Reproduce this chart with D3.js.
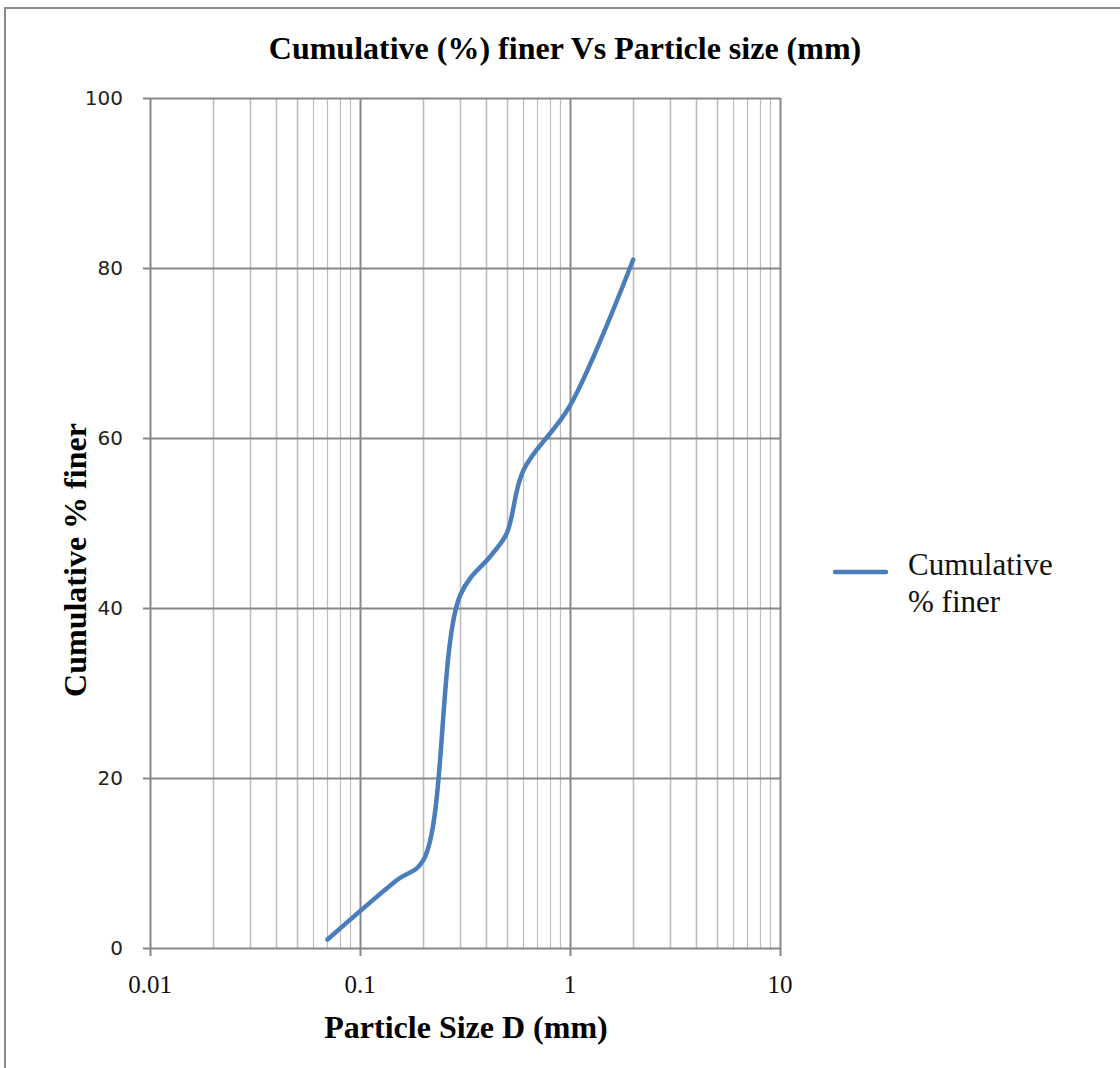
<!DOCTYPE html>
<html>
<head>
<meta charset="utf-8">
<script src="https://cdn.jsdelivr.net/npm/d3@7"></script>
<style>
  body { margin: 0; background: #fff; }
  svg { display: block; }
</style>
</head>
<body>
<div id="chart"></div>
<script>
    // sieve sizes (mm) and cumulative % finer
    var sizes  = [0.07, 0.15, 0.2, 0.3, 0.425, 0.5, 0.6, 1, 2];
    var finer  = [1, 8, 10.3, 41.5, 46.3, 48.8, 56.2, 63.8, 81];
    var xTicks = [0.01, 0.1, 1, 10];
    var yTicks = [0, 20, 40, 60, 80, 100];
    var seriesName = ["Cumulative", "% finer"];

    var W = 1120, H = 1068;
    var svg = d3.select("#chart").append("svg")
                .attr("width", W)
                .attr("height", H);

    // chart frame
    svg.append("rect")
       .attr("x", 5).attr("y", 8)
       .attr("width", W + 20).attr("height", H + 20)
       .attr("fill", "none")
       .attr("stroke", "#8c8c8c")
       .attr("stroke-width", 2);

    var x = d3.scaleLog().domain([0.01, 10]).range([150, 780]);
    var y = d3.scaleLinear().domain([0, 100]).range([948, 98]);

    // minor vertical grid (2..9 in each decade)
    var minor = [];
    xTicks.slice(0, -1).forEach(function(d){
        for (var k = 2; k <= 9; k++) minor.push(d * k);
    });
    svg.append("g").selectAll("line")
       .data(minor).enter().append("line")
       .attr("x1", function(d){ return Math.round(x(d)) + 0.5; })
       .attr("x2", function(d){ return Math.round(x(d)) + 0.5; })
       .attr("y1", y(100)).attr("y2", y(0))
       .attr("stroke", "#bdbdbd")
       .attr("stroke-width", function(d, i){ return (i % 8) < 4 ? 1.6 : 1.2; });

    // major vertical grid
    svg.append("g").selectAll("line")
       .data(xTicks).enter().append("line")
       .attr("x1", function(d){ return Math.round(x(d)) + 0.5; })
       .attr("x2", function(d){ return Math.round(x(d)) + 0.5; })
       .attr("y1", y(100)).attr("y2", y(0) + 8)
       .attr("stroke", "#878787")
       .attr("stroke-width", 2);

    // horizontal grid
    svg.append("g").selectAll("line")
       .data(yTicks).enter().append("line")
       .attr("x1", x(0.01) - 7).attr("x2", x(10))
       .attr("y1", function(d){ return Math.round(y(d)) + 0.5; })
       .attr("y2", function(d){ return Math.round(y(d)) + 0.5; })
       .attr("stroke", "#878787")
       .attr("stroke-width", 2);

    // tick labels
    svg.append("g").selectAll("text")
       .data(yTicks).enter().append("text")
       .text(function(d){ return d; })
       .attr("x", 123)
       .attr("y", function(d){ return y(d) + 7; })
       .attr("text-anchor", "end")
       .style("font-family", "DejaVu Sans, Verdana, sans-serif")
       .style("font-size", "20px")
       .style("fill", "#222");

    svg.append("g").selectAll("text")
       .data(xTicks).enter().append("text")
       .text(function(d){ return d; })
       .attr("x", function(d){ return x(d); })
       .attr("y", 993)
       .attr("text-anchor", "middle")
       .style("font-family", "Liberation Serif, Times New Roman, serif")
       .style("font-size", "25px")
       .style("fill", "#111");

    // the curve
    var pts = sizes.map(function(d, i){ return [d, finer[i]]; });
    var line = d3.line()
                 .x(function(d){ return x(d[0]); })
                 .y(function(d){ return y(d[1]); })
                 .curve(d3.curveCatmullRom.alpha(0.5));
    svg.append("path")
       .datum(pts)
       .attr("d", line)
       .attr("fill", "none")
       .attr("stroke", "#4a7ebb")
       .attr("stroke-width", 4.5)
       .attr("stroke-linecap", "round")
       .attr("stroke-linejoin", "round");

    // titles
    svg.append("text")
       .text("Cumulative (%) finer Vs Particle size (mm)")
       .attr("x", 565).attr("y", 59)
       .attr("text-anchor", "middle")
       .style("font-family", "Liberation Serif, Times New Roman, serif")
       .style("font-weight", "bold")
       .style("font-size", "32px");

    svg.append("text")
       .text("Particle Size D (mm)")
       .attr("x", 466).attr("y", 1038)
       .attr("text-anchor", "middle")
       .style("font-family", "Liberation Serif, Times New Roman, serif")
       .style("font-weight", "bold")
       .style("font-size", "32px");

    svg.append("text")
       .text("Cumulative % finer")
       .attr("transform", "translate(86,560) rotate(-90)")
       .attr("text-anchor", "middle")
       .style("font-family", "Liberation Serif, Times New Roman, serif")
       .style("font-weight", "bold")
       .style("font-size", "32px");

    // legend
    var lg = svg.append("g").attr("transform", "translate(835,572)");
    lg.append("line")
      .attr("x1", 0).attr("x2", 51)
      .attr("y1", 0).attr("y2", 0)
      .attr("stroke", "#4a7ebb")
      .attr("stroke-width", 4.5)
      .attr("stroke-linecap", "round");
    lg.selectAll("text")
      .data(seriesName).enter().append("text")
      .text(function(d){ return d; })
      .attr("x", 73)
      .attr("y", function(d, i){ return 3 + i * 37; })
      .style("font-family", "Liberation Serif, Times New Roman, serif")
      .style("font-size", "31px")
      .style("fill", "#111");
</script>
</body>
</html>
